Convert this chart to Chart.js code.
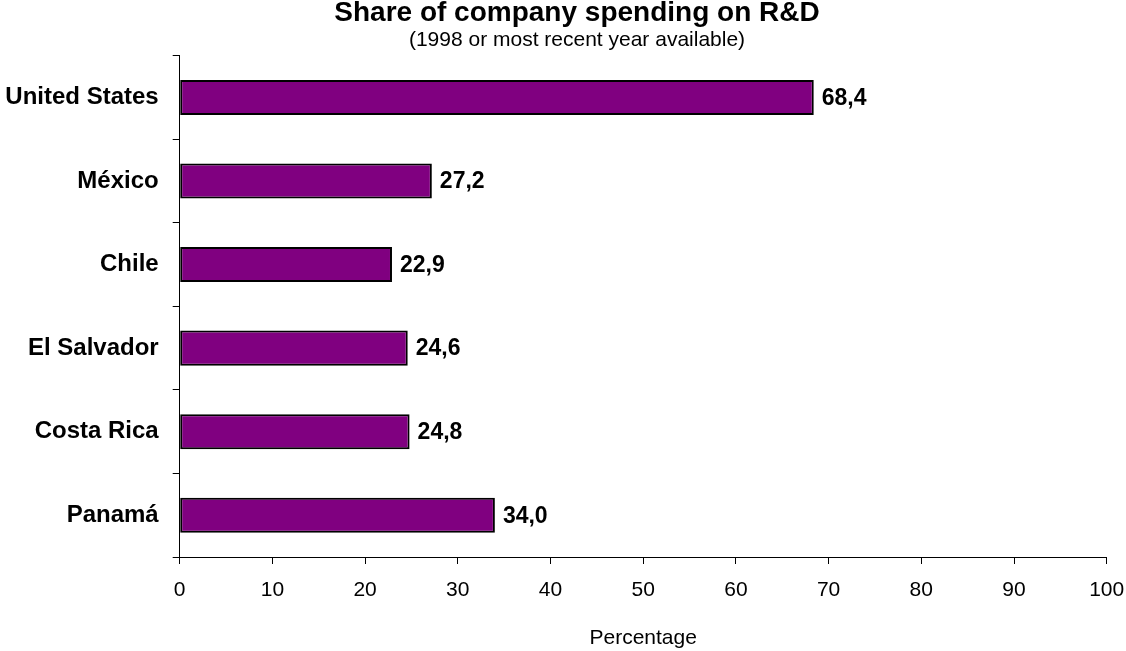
<!DOCTYPE html>
<html>
<head>
<meta charset="utf-8">
<script src="https://cdn.jsdelivr.net/npm/chart.js@4"></script>
<style>
  body { margin: 0; background: #fff; }
  #wrap { width: 1126px; height: 651px; position: relative; }
</style>
</head>
<body>
<div id="wrap"><canvas id="rdChart"></canvas></div>
<script>
// Share of company spending on R&D, by country
const countries = ['United States', 'México', 'Chile', 'El Salvador', 'Costa Rica', 'Panamá'];
const shares = [68.4, 27.2, 22.9, 24.6, 24.8, 34.0];
const xTicks = [0, 10, 20, 30, 40, 50, 60, 70, 80, 90, 100];

const chartTitle = 'Share of company spending on R&D';
const chartSubtitle = '(1998 or most recent year available)';

const FONT = '"Liberation Sans", Arial, sans-serif';

// heading block, drawn a bit right of the canvas centre
const heading = {
    id: 'heading',
    afterDraw(chart) {
        const ctx = chart.ctx;
        ctx.save();
        ctx.fillStyle = '#000';
        ctx.textAlign = 'center';
        ctx.textBaseline = 'alphabetic';
        ctx.font = 'bold 28px ' + FONT;
        ctx.fillText(chartTitle, 577, 21);
        ctx.font = '21px ' + FONT;
        ctx.fillText(chartSubtitle, 577, 46);
        ctx.restore();
    }
};

// writes the value next to the end of each bar, with a decimal comma
const valueLabels = {
    id: 'valueLabels',
    afterDatasetsDraw(chart) {
        const ctx = chart.ctx;
        const meta = chart.getDatasetMeta(0);
        ctx.save();
        ctx.font = 'bold 23px ' + FONT;
        ctx.fillStyle = '#000';
        ctx.textAlign = 'left';
        ctx.textBaseline = 'middle';
        meta.data.forEach((bar, i) => {
            const txt = shares[i].toFixed(1).replace('.', ',');
            ctx.fillText(txt, bar.x + 8, bar.y + 1);
        });
        ctx.restore();
    }
};

const config = {
    type: 'bar',
    data: {
        labels: countries,
        datasets: [{
            data: shares,
            backgroundColor: '#800080',
            borderColor: '#000',
            borderWidth: 2,
            borderSkipped: false,
            barPercentage: 0.42,
            categoryPercentage: 1.0
        }]
    },
    options: {
        indexAxis: 'y',
        responsive: true,
        maintainAspectRatio: false,
        animation: false,
        layout: {
            padding: { left: 0, right: 0, top: 55.7, bottom: 0 }
        },
        plugins: {
            legend: { display: false },
            tooltip: { enabled: false }
        },
        scales: {
            x: {
                min: 0,
                max: 100,
                afterBuildTicks: axis => {
                    axis.ticks = xTicks.map(v => ({ value: v }));
                },
                grid: { drawOnChartArea: false, tickLength: 7, color: '#000' },
                border: { color: '#000', width: 1 },
                ticks: {
                    color: '#000',
                    padding: 14,
                    maxRotation: 0,
                    font: { family: FONT, size: 21 }
                },
                title: {
                    display: true,
                    text: 'Percentage',
                    color: '#000',
                    font: { family: FONT, size: 21 },
                    padding: { top: 22.6, bottom: 0 }
                },
                afterFit: axis => {
                    axis.height = 94;
                    axis.paddingLeft = 0;
                    axis.paddingRight = 19.3;
                }
            },
            y: {
                grid: { drawOnChartArea: false, tickLength: 7, color: '#000', offset: true },
                border: { color: '#000', width: 1 },
                ticks: {
                    color: '#000',
                    padding: 14,
                    font: { family: FONT, size: 24, weight: 'bold' }
                },
                afterFit: axis => { axis.width = 179.7; }
            }
        }
    },
    plugins: [valueLabels, heading]
};

var rdChart = new Chart(document.getElementById('rdChart'), config);
</script>
</body>
</html>
